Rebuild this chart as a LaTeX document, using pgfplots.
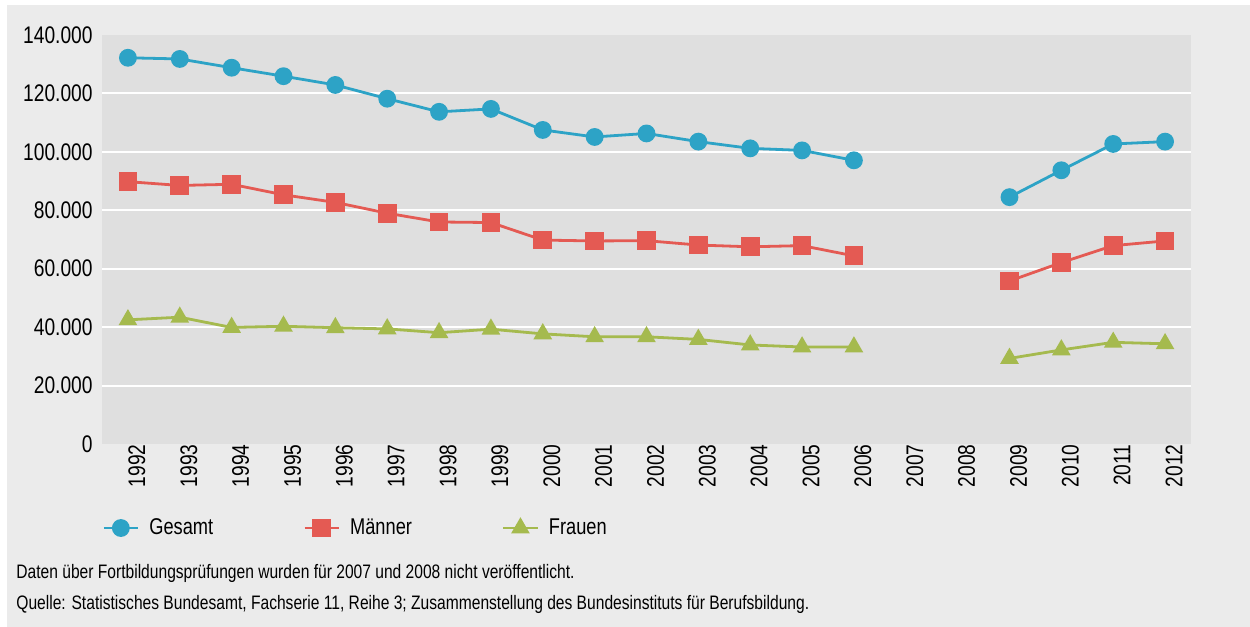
\documentclass[border=0pt]{standalone}
\usepackage{fontspec}
\setmainfont{Liberation Sans}[FakeStretch=0.8]
\usepackage{pgfplots}
\pgfplotsset{compat=1.18}
\definecolor{cBlue}{HTML}{2DA3C6}
\definecolor{cRed}{HTML}{E45A53}
\definecolor{cGreen}{HTML}{A5BA4E}
\definecolor{outerbg}{HTML}{EBEBEB}
\definecolor{plotbg}{HTML}{DFDFDF}
\begin{document}
\begin{tikzpicture}
\fill[white] (0pt,0pt) rectangle (625pt,313.5pt);
\fill[outerbg] (3.5pt,0pt) rectangle (625pt,311pt);
\begin{axis}[
  at={(51pt,91.5pt)}, anchor=south west,
  scale only axis, width=544.5pt, height=204.5pt,
  xmin=-0.5, xmax=20.5, ymin=0, ymax=140000,
  unbounded coords=jump,
  axis background/.style={fill=plotbg},
  axis line style={draw=none},
  major tick length=0pt,
  xtick={0,...,20},
  xticklabels={1992,1993,1994,1995,1996,1997,1998,1999,2000,2001,2002,2003,2004,2005,2006,2007,2008,2009,2010,2011,2012},
  ytick={20000,40000,60000,80000,100000,120000},
  extra y ticks={0,140000},
  extra y tick style={ymajorgrids=false},
  ymajorgrids, major grid style={white, line width=1pt},
  scaled y ticks=false,
  /pgf/number format/.cd, fixed, 1000 sep={.}, assume math mode=true,
  /pgfplots/.cd,
  tick label style={font=\fontsize{12}{14}\selectfont, text=black},
  yticklabel style={inner sep=0pt, xshift=-4.5pt},
  xticklabel style={rotate=90, anchor=east, inner sep=0pt, yshift=-4.5pt},
  legend columns=3,
  legend style={at={(0,-0.2054)}, anchor=west, draw=none, fill=none, inner sep=0pt,
    font=\fontsize{11.4}{13}\selectfont,
    /tikz/every odd column/.append style={column sep=3pt},
    /tikz/every even column/.append style={column sep=43pt}},
  every axis plot/.append style={line width=1.4pt},
  clip=false,
]
\addplot[cBlue, mark=*, mark size=3.75pt] coordinates {
(0,132200) (1,131800) (2,128800) (3,125900) (4,122900) (5,118200) (6,113700) (7,114700)
(8,107500) (9,105100) (10,106300) (11,103500) (12,101200) (13,100500) (14,97100)
(15,nan)
(17,84500) (18,93700) (19,102700) (20,103500)};
\addlegendentry{Gesamt}
\addplot[cRed, mark=square*, mark size=4pt] coordinates {
(0,89800) (1,88500) (2,88900) (3,85300) (4,82700) (5,79000) (6,76000) (7,75800)
(8,69800) (9,69500) (10,69600) (11,68100) (12,67500) (13,67900) (14,64400)
(15,nan)
(17,55800) (18,62100) (19,67900) (20,69500)};
\addlegendentry{Männer}
\addplot[cGreen, mark=triangle*, mark size=4pt] coordinates {
(0,42500) (1,43400) (2,39900) (3,40300) (4,39800) (5,39400) (6,38100) (7,39300)
(8,37700) (9,36700) (10,36700) (11,35800) (12,33900) (13,33200) (14,33200)
(15,nan)
(17,29300) (18,32200) (19,34800) (20,34300)};
\addlegendentry{Frauen}
\end{axis}
\node[anchor=base west, inner sep=0pt, font=\fontsize{9.75}{11}\selectfont] at (8pt,24pt)
  {Daten über Fortbildungsprüfungen wurden für 2007 und 2008 nicht veröffentlicht.};
\node[anchor=base west, inner sep=0pt, font=\fontsize{9.75}{11}\selectfont] at (8pt,8.5pt)
  {Quelle: Statistisches Bundesamt, Fachserie 11, Reihe 3; Zusammenstellung des Bundesinstituts für Berufsbildung.};
\end{tikzpicture}
\end{document}
